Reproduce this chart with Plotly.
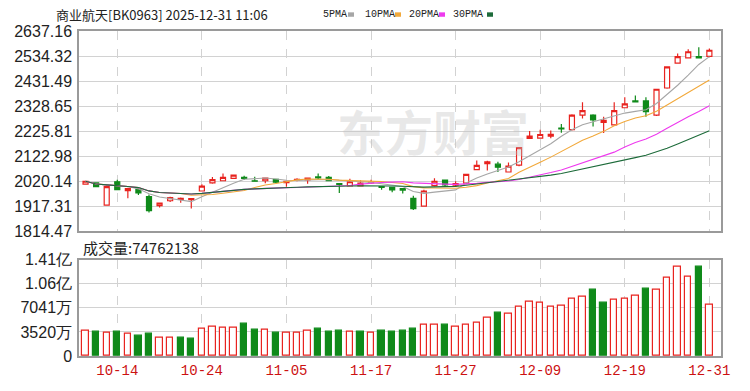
import plotly.graph_objects as go
import pandas as pd

# ---------------- data ----------------
dates = ["10-09", "10-10", "10-13", "10-14", "10-15", "10-16", "10-17", "10-20", "10-21", "10-22",
         "10-23", "10-24", "10-27", "10-28", "10-29", "10-30", "10-31", "11-03", "11-04", "11-05",
         "11-06", "11-07", "11-10", "11-11", "11-12", "11-13", "11-14", "11-17", "11-18", "11-19",
         "11-20", "11-21", "11-24", "11-25", "11-26", "11-27", "11-28", "12-01", "12-02", "12-03",
         "12-04", "12-05", "12-08", "12-09", "12-10", "12-11", "12-12", "12-15", "12-16", "12-17",
         "12-18", "12-19", "12-22", "12-23", "12-24", "12-25", "12-26", "12-29", "12-30", "12-31"]

opens = [2008, 2013, 1922, 2018, 1981, 1987, 1957, 1920, 1940, 1946,
         1944, 1980, 2013, 2022, 2032, 2036, 2022, 2022, 2028, 2014,
         2025, 2026, 2038, 2036, 2010, 2001, 2001, 2013, 1998, 1995,
         1990, 1950, 1918, 2002, 2025, 2004, 2012, 2068, 2092, 2090,
         2058, 2086, 2196, 2197, 2205, 2238, 2232, 2292, 2292, 2262,
         2252, 2322, 2350, 2350, 2292, 2403, 2505, 2527, 2532, 2533]
highs = [2022, 2016, 2004, 2026, 1993, 1990, 1966, 1932, 1956, 1953,
         1951, 2008, 2037, 2052, 2048, 2043, 2039, 2035, 2030, 2022,
         2032, 2035, 2052, 2042, 2011, 2030, 2024, 2026, 2000, 1997,
         1992, 1960, 1985, 2032, 2027, 2020, 2050, 2105, 2104, 2100,
         2097, 2160, 2226, 2232, 2228, 2255, 2295, 2345, 2295, 2285,
         2345, 2365, 2372, 2365, 2400, 2492, 2545, 2562, 2570, 2565]
lows = [2006, 1995, 1920, 1984, 1950, 1964, 1892, 1912, 1935, 1932,
        1908, 1978, 2010, 2020, 2030, 2025, 2018, 2012, 2012, 1997,
        2020, 2010, 2027, 2020, 1972, 1999, 2000, 2010, 1985, 1975,
        1970, 1902, 1915, 1998, 2000, 1998, 2008, 2067, 2064, 2058,
        2056, 2082, 2194, 2195, 2197, 2219, 2228, 2278, 2245, 2218,
        2250, 2320, 2345, 2285, 2288, 2400, 2503, 2525, 2524, 2530]
closes = [2020, 1998, 1998, 1986, 1990, 1972, 1899, 1930, 1953, 1950,
          1949, 2000, 2027, 2036, 2045, 2032, 2020, 2033, 2016, 2020,
          2028, 2033, 2034, 2022, 2007, 2018, 2012, 2016, 1995, 1985,
          1984, 1908, 1980, 2020, 2005, 2010, 2048, 2085, 2100, 2078,
          2082, 2158, 2205, 2212, 2213, 2235, 2292, 2310, 2272, 2270,
          2310, 2338, 2346, 2306, 2398, 2490, 2532, 2552, 2527, 2558]

volumes = [36.8, 35.3, 33.5, 35.3, 32.0, 29.6, 32.0, 27.3, 27.3, 27.3,
           25.9, 39.2, 43.5, 40.7, 41.7, 47.8, 37.8, 37.8, 33.5, 33.5,
           33.5, 37.4, 39.2, 35.9, 37.4, 35.9, 35.3, 33.5, 36.8, 35.3,
           36.8, 39.2, 45.4, 45.4, 45.4, 43.1, 45.4, 49.3, 55.5, 63.7,
           61.8, 71.8, 79.9, 77.6, 71.8, 73.7, 83.8, 86.2, 96.7, 78.0,
           81.9, 84.2, 88.1, 98.6, 96.3, 114.4, 130.8, 116.4, 131.2, 74.762138]  # millions
vol_up = [1, 0, 1, 0, 1, 0, 0, 1, 1, 0,
          0, 1, 1, 1, 1, 0, 0, 1, 0, 1,
          1, 1, 0, 0, 0, 1, 0, 1, 0, 0,
          0, 0, 1, 1, 0, 1, 1, 1, 1, 0,
          1, 1, 1, 1, 1, 1, 1, 1, 0, 0,
          1, 1, 1, 0, 1, 1, 1, 1, 0, 1]

ma_periods = [5, 10, 20, 30]
ma_names = ["5PMA", "10PMA", "20PMA", "30PMA"]
ma_colors = ["#a6a6a6", "#f2a93b", "#ee3aee", "#1d6b3a"]

price_ticks = [1814.47, 1917.31, 2020.14, 2122.98, 2225.81, 2328.65, 2431.49, 2534.32, 2637.16]
vol_ticks = [0, 35.205, 70.41, 105.615, 140.82]
vol_tick_labels = ["0", "3520万", "7041万", "1.06亿", "1.41亿"]
date_ticks = ["10-14", "10-24", "11-05", "11-17", "11-27", "12-09", "12-19", "12-31"]

title_text = "商业航天[BK0963] 2025-12-31 11:06"
vol_title = "成交量:74762138"

RED = "#e8231f"
GREEN = "#0f8a1a"

# ---------------- figure ----------------
fig = go.Figure()

close_s = pd.Series(closes)
for p, name, col in zip(ma_periods, ma_names, ma_colors):
    ma = close_s.rolling(p, min_periods=1).mean()
    fig.add_trace(go.Scatter(x=dates, y=ma, mode="lines", name=name,
                             line=dict(color=col, width=1.1), xaxis="x", yaxis="y",
                             hoverinfo="skip", showlegend=False))

fig.add_trace(go.Candlestick(
    x=dates, open=opens, high=highs, low=lows, close=closes,
    increasing=dict(line=dict(color=RED, width=1.2), fillcolor="white"),
    decreasing=dict(line=dict(color=GREEN, width=1.2), fillcolor=GREEN),
    whiskerwidth=0, xaxis="x", yaxis="y", showlegend=False))

fig.add_trace(go.Bar(
    x=dates, y=volumes, xaxis="x2", yaxis="y2", width=0.6,
    marker=dict(color=["white" if u else GREEN for u in vol_up],
                line=dict(color=[RED if u else GREEN for u in vol_up], width=1.2)),
    showlegend=False))

W, H = 750, 391
ml, mr, mt, mb = 79, 29, 31, 29
pw, ph = W - ml - mr, H - mt - mb


def px_x(x):
    return (x - ml) / pw


def px_y(y):
    return (H - mb - y) / ph


axis_font = dict(family="Liberation Sans, Arial", size=16, color="#222")
grid_col = "#d2d2d2"
frame_col = "#9a9a9a"

fig.update_layout(
    width=W, height=H, margin=dict(l=ml, r=mr, t=mt, b=mb),
    paper_bgcolor="white", plot_bgcolor="white", showlegend=False,
    boxgap=0.32, bargap=0,
    xaxis=dict(domain=[0, 1], anchor="y", type="category", range=[-0.62, 60.1],
               tickvals=date_ticks, showticklabels=False, ticks="",
               showgrid=True, gridcolor=grid_col, griddash="dash", gridwidth=1,
               showline=True, linecolor=frame_col, mirror=True, linewidth=1.5,
               rangeslider=dict(visible=False), zeroline=False),
    yaxis=dict(domain=[px_y(235), 1], anchor="x", range=[price_ticks[0], price_ticks[-1]],
               tickvals=price_ticks, ticktext=[f"{v:.2f}" for v in price_ticks],
               tickfont=axis_font, ticks="", showgrid=True, gridcolor=grid_col,
               showline=True, linecolor=frame_col, mirror=True, linewidth=1.5,
               zeroline=False, ticklabelstandoff=2),
    xaxis2=dict(domain=[0, 1], anchor="y2", type="category", matches="x",
                tickvals=date_ticks, ticks="",
                tickfont=dict(family="Liberation Mono, monospace", size=14, color="#cc1111"),
                showgrid=True, gridcolor=grid_col, griddash="dash", gridwidth=1,
                showline=True, linecolor=frame_col, mirror=True, linewidth=1.5,
                zeroline=False),
    yaxis2=dict(domain=[0, px_y(264)], anchor="x2", range=[0, vol_ticks[-1]],
                tickvals=vol_ticks, ticktext=vol_tick_labels, tickfont=axis_font,
                ticks="", showgrid=True, gridcolor=grid_col,
                showline=True, linecolor=frame_col, mirror=True, linewidth=1.5,
                zeroline=False, ticklabelstandoff=2),
)

ann = []
shapes = []
# watermark
ann.append(dict(text="东方财富", xref="paper", yref="paper", x=px_x(433), y=px_y(132),
                xanchor="center", yanchor="middle", showarrow=False,
                font=dict(family="Noto Sans CJK SC", size=48, weight="bold",
                          color="rgba(195,195,195,0.38)")))
# title
ann.append(dict(text=title_text, xref="paper", yref="paper", x=px_x(54), y=px_y(14),
                xanchor="left", yanchor="middle", showarrow=False,
                font=dict(family="Noto Sans CJK SC", size=13, color="#222")))
# legend: label + small colour swatch
leg_x = [321, 363, 407, 451]
sw_x = [348, 395, 439, 487]
for name, col, lx, sx in zip(ma_names, ma_colors, leg_x, sw_x):
    ann.append(dict(text=name, xref="paper", yref="paper",
                    x=px_x(lx), y=px_y(14), xanchor="left", yanchor="middle", showarrow=False,
                    font=dict(family="Liberation Mono, monospace", size=10, color="#222")))
    shapes.append(dict(type="rect", xref="paper", yref="paper",
                       x0=px_x(sx), x1=px_x(sx + 6), y0=px_y(16.5), y1=px_y(12),
                       line=dict(width=0), fillcolor=col))
# volume title
ann.append(dict(text=vol_title, xref="paper", yref="paper", x=px_x(81), y=px_y(252),
                xanchor="left", yanchor="middle", showarrow=False,
                font=dict(family="Noto Sans CJK SC, Liberation Sans", size=15, color="#222")))
fig.update_layout(annotations=ann, shapes=shapes)

fig.write_html("out.html")
